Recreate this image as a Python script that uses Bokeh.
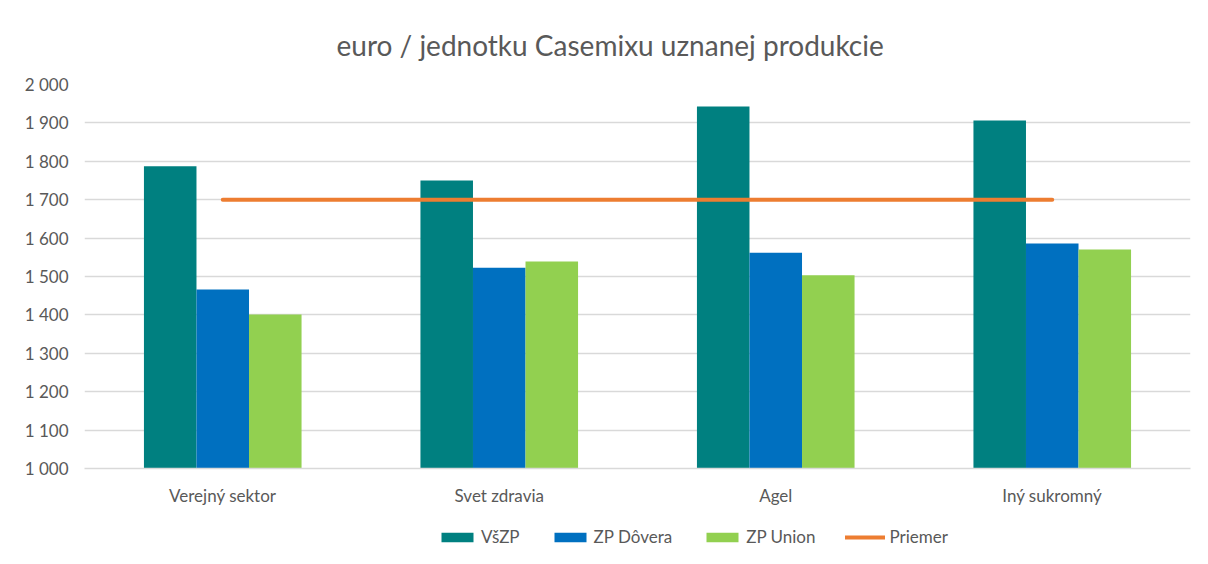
from bokeh.plotting import figure
from bokeh.models import FactorRange, Legend, LegendItem, ColumnDataSource, Range1d, FixedTicker
from bokeh.transform import dodge
from bokeh.layouts import column
from bokeh.embed import file_html
from bokeh.resources import INLINE

categories = ["Verejný sektor", "Svet zdravia", "Agel", "Iný sukromný"]
vszp = [1787, 1750, 1943, 1906]
dovera = [1466, 1523, 1562, 1586]
union = [1401, 1539, 1503, 1570]
priemer = [1700, 1700, 1700, 1700]
y_ticks = [1000, 1100, 1200, 1300, 1400, 1500, 1600, 1700, 1800, 1900, 2000]
y_tick_labels = ["1 000", "1 100", "1 200", "1 300", "1 400", "1 500", "1 600", "1 700", "1 800", "1 900", "2 000"]
series_names = ["VšZP", "ZP Dôvera", "ZP Union", "Priemer"]
title_text = "euro / jednotku Casemixu uznanej produkcie"

FONT = "Lato"
TXT = "#595959"
GRID = "#d9d9d9"
colors = ["#008080", "#0070C0", "#92D050", "#ED7D31"]

src = ColumnDataSource(dict(cat=categories, vszp=vszp, dovera=dovera, union=union, priemer=priemer))

p = figure(width=1208, height=512, x_range=FactorRange(*categories), y_range=Range1d(1000, 2000),
           output_backend="svg", toolbar_location=None, title=title_text,
           min_border_left=84, min_border_right=18, min_border_top=84, min_border_bottom=44)

p.title.align = "left"
p.title.offset = 252
p.title.text_font = FONT
p.title.text_font_size = "28px"
p.title.text_font_style = "normal"
p.title.text_color = TXT
p.title.standoff = 46

w = 0.19
p.vbar(x=dodge("cat", -w, range=p.x_range), top="vszp", bottom=1000, width=w, source=src,
       fill_color=colors[0], line_color=None)
p.vbar(x=dodge("cat", 0, range=p.x_range), top="dovera", bottom=1000, width=w, source=src,
       fill_color=colors[1], line_color=None)
p.vbar(x=dodge("cat", w, range=p.x_range), top="union", bottom=1000, width=w, source=src,
       fill_color=colors[2], line_color=None)
p.line(x="cat", y="priemer", source=src, line_color=colors[3], line_width=4, line_cap="round")

p.outline_line_color = None
p.xgrid.grid_line_color = None
p.ygrid.grid_line_color = GRID
p.ygrid.grid_line_width = 1.5
p.yaxis.ticker = FixedTicker(ticks=y_ticks)
p.yaxis.major_label_overrides = {t: l for t, l in zip(y_ticks, y_tick_labels)}
p.yaxis.axis_line_color = None
p.yaxis.major_tick_line_color = None
p.yaxis.minor_tick_line_color = None
p.yaxis.major_label_standoff = 10
p.xaxis.axis_line_color = GRID
p.xaxis.axis_line_width = 1.5
p.xaxis.major_tick_line_color = None
p.xaxis.minor_tick_line_color = None
p.xaxis.major_label_standoff = 10
p.x_range.range_padding = 0
p.x_range.group_padding = 0
for ax in (p.xaxis, p.yaxis):
    ax.major_label_text_font = FONT
    ax.major_label_text_font_size = "17px"
    ax.major_label_text_color = TXT

# legend strip below the chart (legend renderers hold off-screen points only)
lf = figure(width=1208, height=52, x_range=Range1d(0, 1), y_range=Range1d(0, 1),
            output_backend="svg", toolbar_location=None,
            min_border_left=0, min_border_right=0, min_border_top=0, min_border_bottom=0)
lf.axis.visible = False
lf.grid.grid_line_color = None
lf.outline_line_color = None
l1 = lf.vbar(x=-10, top=-10, bottom=-11, width=0.1, fill_color=colors[0], line_color=None)
l2 = lf.vbar(x=-10, top=-10, bottom=-11, width=0.1, fill_color=colors[1], line_color=None)
l3 = lf.vbar(x=-10, top=-10, bottom=-11, width=0.1, fill_color=colors[2], line_color=None)
l4 = lf.line(x=[-10, -9], y=[-10, -10], line_color=colors[3], line_width=4, line_cap="round")

legend = Legend(items=[LegendItem(label=n, renderers=[r]) for n, r in zip(series_names, [l1, l2, l3, l4])],
                orientation="horizontal", location=(353, 17), border_line_color=None,
                background_fill_alpha=0, glyph_width=40, glyph_height=12, label_standoff=4, spacing=30,
                label_text_font=FONT, label_text_font_size="17px", label_text_color=TXT, margin=0, padding=0)
lf.add_layout(legend, "center")

layout = column(p, lf, spacing=0)
open("out.html", "w").write(file_html(layout, INLINE))
